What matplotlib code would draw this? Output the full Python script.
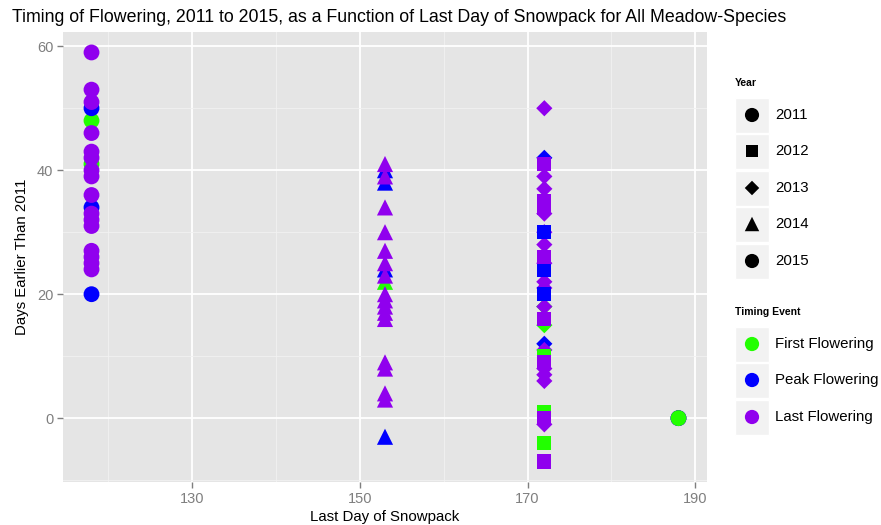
import matplotlib
matplotlib.use("Agg")
import matplotlib.pyplot as plt
from matplotlib.patches import Rectangle

plt.rcParams['font.family'] = ['Liberation Sans', 'DejaVu Sans']

# ---- data ----
events = ["First Flowering", "Peak Flowering", "Last Flowering"]
event_colors = {"First Flowering": "#22FF00", "Peak Flowering": "#0000FF", "Last Flowering": "#9000EE"}
years = ["2011", "2012", "2013", "2014", "2015"]
year_markers = {"2011": "o", "2012": "s", "2013": "D", "2014": "^", "2015": "o"}
year_snow = {"2011": 188, "2012": 172, "2013": 172, "2014": 153, "2015": 118}

# days earlier than 2011, per year and event
y2011_first = [0]
y2011_peak = [0]
y2011_last = [0]

y2012_first = [-4, 1, 10]
y2012_peak = [30, 24, 20]
y2012_last = [-7, 0, 9, 16, 26, 34, 35, 41]

y2013_first = [18, 15]
y2013_peak = [42, 12]
y2013_last = [50, 39, 37, 33, 30, 28, 25, 22, 21, 18, 11, 8, 7, 6, -1]

y2014_first = [22]
y2014_peak = [40, 38, 24, -3]
y2014_last = [41, 39, 34, 30, 27, 25, 23, 20, 19, 18, 17, 16, 9, 8, 4, 3]

y2015_first = [48, 41]
y2015_peak = [50, 34, 20]
y2015_last = [59, 53, 51, 46, 43, 42, 40, 39, 36, 33, 32, 31, 27, 26, 25, 24]

data = {
    "2011": {"First Flowering": y2011_first, "Peak Flowering": y2011_peak, "Last Flowering": y2011_last},
    "2012": {"First Flowering": y2012_first, "Peak Flowering": y2012_peak, "Last Flowering": y2012_last},
    "2013": {"First Flowering": y2013_first, "Peak Flowering": y2013_peak, "Last Flowering": y2013_last},
    "2014": {"First Flowering": y2014_first, "Peak Flowering": y2014_peak, "Last Flowering": y2014_last},
    "2015": {"First Flowering": y2015_first, "Peak Flowering": y2015_peak, "Last Flowering": y2015_last},
}
# drawing order per year (last drawn on top)
draw_order = {
    "2011": ["Last Flowering", "Peak Flowering", "First Flowering"],
    "2012": ["First Flowering", "Peak Flowering", "Last Flowering"],
    "2013": ["First Flowering", "Peak Flowering", "Last Flowering"],
    "2014": ["First Flowering", "Peak Flowering", "Last Flowering"],
    "2015": ["First Flowering", "Peak Flowering", "Last Flowering"],
}
marker_sizes = {"o": 130, "s": 105, "D": 68, "^": 135}

xticks = [130, 150, 170, 190]
yticks = [0, 20, 40, 60]

W, H = 881, 525
fig = plt.figure(figsize=(W / 100, H / 100), dpi=100)
L, R, T, B = 63, 707, 32, 482
ax = fig.add_axes([L / W, 1 - B / H, (R - L) / W, (B - T) / H])
ax.set_facecolor("#E5E5E5")
for s in ax.spines.values():
    s.set_visible(False)

ax.set_xlim(114.6, 191.4)
ax.set_ylim(-10.3, 62.3)
ax.set_xticks(xticks)
ax.set_yticks(yticks)
ax.set_xticks([120, 140, 160, 180], minor=True)
ax.set_yticks([-10, 10, 30, 50], minor=True)
ax.grid(which="major", color="white", linewidth=1.3)
ax.grid(which="minor", color="#F2F2F2", linewidth=0.6)
ax.set_axisbelow(True)
ax.tick_params(which="major", colors="#7F7F7F", labelsize=10.5, length=4, width=1, pad=3)
ax.tick_params(which="minor", length=0)
for lab in ax.get_xticklabels() + ax.get_yticklabels():
    lab.set_color("#7F7F7F")

z = 3
for yr in ["2015", "2014", "2013", "2012", "2011"]:
    m = year_markers[yr]
    for ev in draw_order[yr]:
        vals = data[yr][ev]
        ax.scatter([year_snow[yr]] * len(vals), vals, marker=m, s=marker_sizes[m],
                   color=event_colors[ev], edgecolors="none", zorder=z)
        z += 1

ax.set_xlabel("Last Day of Snowpack", fontsize=10.8, labelpad=3)
ax.set_ylabel("Days Earlier Than 2011", fontsize=10.8, labelpad=6)

fig.text(12 / W, 1 - 17 / H, "Timing of Flowering, 2011 to 2015, as a Function of Last Day of Snowpack for All Meadow-Species",
         fontsize=12.8, ha="left", va="center")

# ---- legend (pixel coordinates) ----
lg = fig.add_axes([0, 0, 1, 1], zorder=10)
lg.set_xlim(0, W)
lg.set_ylim(H, 0)
lg.axis("off")
lg.patch.set_alpha(0)

lg.text(735, 83, "Year", fontsize=7.5, fontweight="bold", ha="left", va="center")
year_rows = [115, 151, 188, 224, 261]
for yr, cy in zip(years, year_rows):
    lg.add_patch(Rectangle((735, cy - 17), 34, 35, facecolor="#F2F2F2", edgecolor="white", lw=1))
    m = year_markers[yr]
    lg.scatter([752], [cy], marker=m, s=marker_sizes[m] * 0.8, color="black", edgecolors="none")
    lg.text(775, cy, yr, fontsize=10.8, ha="left", va="center")

lg.text(735, 312, "Timing Event", fontsize=7.5, fontweight="bold", ha="left", va="center")
event_rows = [344, 380, 417]
for ev, cy in zip(events, event_rows):
    lg.add_patch(Rectangle((735, cy - 17), 34, 35, facecolor="#F2F2F2", edgecolor="white", lw=1))
    lg.scatter([752], [cy], marker="o", s=105, color=event_colors[ev], edgecolors="none")
    lg.text(775, cy, ev, fontsize=10.8, ha="left", va="center")

fig.savefig("out.png", dpi=100)
